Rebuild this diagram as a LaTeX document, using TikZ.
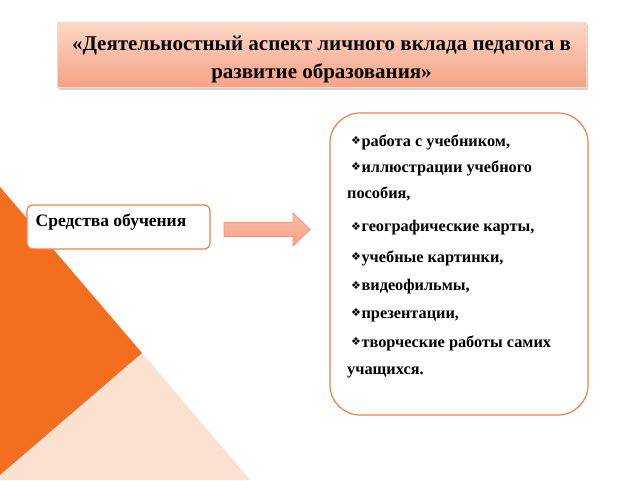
\documentclass[tikz,border=0pt]{standalone}
\usepackage{fontspec}
\setmainfont{Liberation Serif}
\newfontfamily\symbfont{DejaVu Sans}
\usetikzlibrary{shadows,positioning,calc}

\definecolor{bgorange}{RGB}{244,110,32}
\definecolor{bgpeach}{RGB}{252,224,208}
\definecolor{edgeorange}{RGB}{238,128,70}
\definecolor{titletop}{RGB}{252,215,198}
\definecolor{titlebot}{RGB}{246,162,135}

\tikzset{
  boxline/.style={draw=edgeorange, line width=1.2pt, fill=white},
  itemtext/.style={anchor=west, inner sep=0pt, font=\bfseries\fontsize{16.3}{20}\selectfont},
}
\newcommand{\dingbul}{\raisebox{1.5pt}{\symbfont\fontsize{11}{11}\selectfont ❖}\hspace{0.5pt}}

\begin{document}
\begin{tikzpicture}[x=1pt,y=-1pt]
  \useasboundingbox (0,0) rectangle (640,480);
  \fill[white] (0,0) rectangle (640,480);

  % background corner
  \coordinate (K) at (142,353);
  \fill[bgpeach] (K) -- (250,480) -- (0,480) -- (0,475) -- cycle;
  \fill[bgorange] (0,187) -- (K) -- (0,475) -- cycle;

  % title
  \node[draw=titletop, line width=0.8pt, top color=titletop, bottom color=titlebot,
        drop shadow={opacity=0.35, shadow xshift=1.5pt, shadow yshift=-2.5pt},
        minimum width=529pt, minimum height=65pt] (title) at (321.5,54.5) {};
  \node[align=center, font=\bfseries\fontsize{21}{28}\selectfont] (titletext) at (321.5,60)
    {«Деятельностный аспект личного вклада педагога в\\развитие образования»};

  % left box
  \draw[boxline, rounded corners=6pt] (27,205) rectangle (210,249);
  \node[font=\bfseries\fontsize{17.5}{20}\selectfont] (means) at (111,222) {Средства обучения};

  % block arrow
  \coordinate (arrL) at (224,229.5);
  \coordinate (arrT) at (310,229.5);
  \draw[draw=titlebot!90!red, line width=0.8pt, top color=titletop!50!titlebot, bottom color=titlebot]
    ($(arrL)+(0,-7)$) -- ($(arrT)+(-17,-7)$) -- ($(arrT)+(-17,-16.5)$) -- (arrT)
    -- ($(arrT)+(-17,16.5)$) -- ($(arrT)+(-17,7)$) -- ($(arrL)+(0,7)$) -- cycle;

  % right box
  \draw[boxline, rounded corners=30pt] (330,113) rectangle (588,415);
  \node[itemtext] (it1) at (351,142) {\dingbul работа с учебником,};
  \node[itemtext] (it2) at (351,168) {\dingbul иллюстрации учебного};
  \node[itemtext] (it3) at (347,194) {пособия,};
  \node[itemtext] (it4) at (351,228) {\dingbul географические карты,};
  \node[itemtext] (it5) at (351,258) {\dingbul учебные картинки,};
  \node[itemtext] (it6) at (351,287) {\dingbul видеофильмы,};
  \node[itemtext] (it7) at (351,315) {\dingbul презентации,};
  \node[itemtext] (it8) at (351,343) {\dingbul творческие работы самих};
  \node[itemtext] (it9) at (347,372) {учащихся.};
\end{tikzpicture}
\end{document}
